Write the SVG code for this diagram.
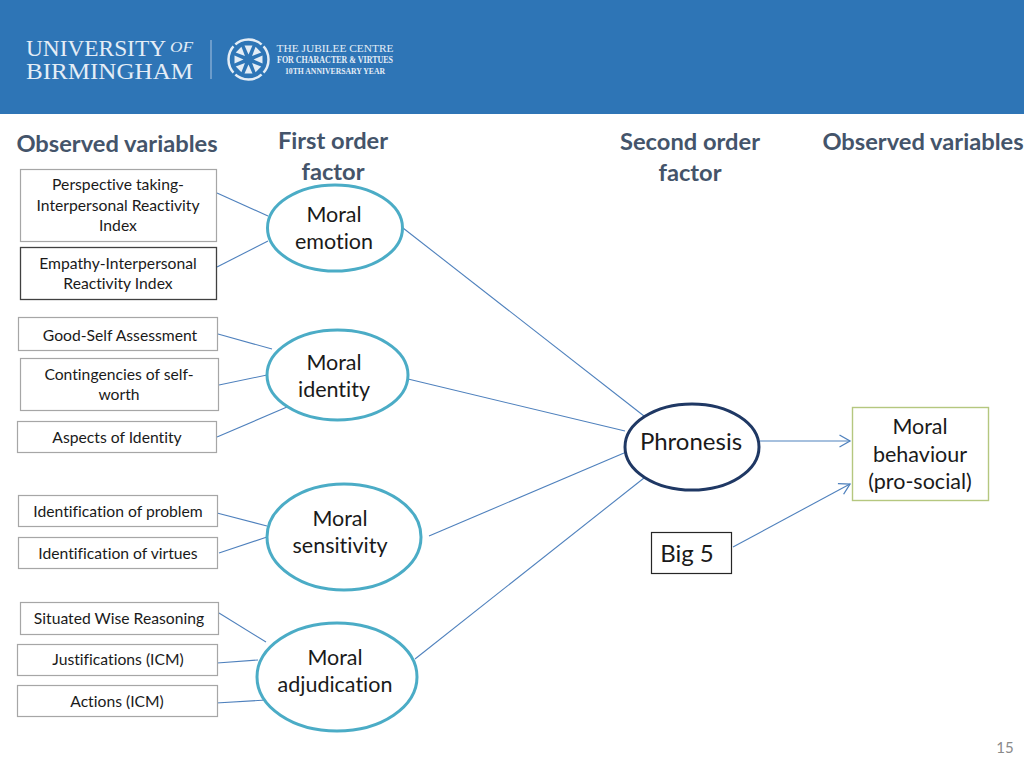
<svg xmlns="http://www.w3.org/2000/svg" width="1024" height="768" viewBox="0 0 1024 768">
<style>
text{font-family:"Lato","Open Sans","Liberation Sans",sans-serif;fill:#1a1a1a;text-anchor:middle;font-variant-ligatures:none}
.h{font-size:23.700px;font-weight:700;fill:#44546a}
.b{fill:#fff;stroke:#a6a6a6;stroke-width:1.2}
.d{fill:#fff;stroke:#404040;stroke-width:1.3}
.s{font-size:15.700px}
.e{fill:#fff;stroke:#4bacc6;stroke-width:3}
.l{font-size:21.500px}
.c line{stroke:#4f81bd;stroke-width:1.1}
.logo{font-family:"Liberation Serif",serif;fill:#e4edf6}
.st{text-anchor:start}
</style>
<defs>
<marker id="a" markerWidth="14" markerHeight="16" refX="11.500" refY="7" orient="auto" markerUnits="userSpaceOnUse"><path d="M1 1L11.500 7L1 13" fill="none" stroke="#4f81bd" stroke-width="1.300"/></marker>
<polygon id="w" points="0,-5 -4,-14 4,-14" fill="#e4edf6"/>
</defs>
<rect width="1024" height="114" fill="#2e75b6"/>
<g id="logo">
<text class="logo st" x="26" y="56" font-size="23" textLength="140" lengthAdjust="spacingAndGlyphs">UNIVERSITY</text>
<text class="logo st" x="170" y="52" font-size="14" font-style="italic" textLength="23" lengthAdjust="spacingAndGlyphs">OF</text>
<text class="logo st" x="26" y="79" font-size="23" textLength="167" lengthAdjust="spacingAndGlyphs">BIRMINGHAM</text>
<line x1="211" y1="40" x2="211" y2="79" stroke="#a9c4e0" stroke-width="1"/>
<circle cx="248.500" cy="59.500" r="20" fill="none" stroke="#e4edf6" stroke-width="2.500"/>
<g stroke="#2e75b6" stroke-width="2.500"><line x1="232" y1="43" x2="236" y2="47"/><line x1="265" y1="43" x2="261" y2="47"/><line x1="232" y1="76" x2="236" y2="72"/><line x1="265" y1="76" x2="261" y2="72"/></g>
<g transform="translate(248.500 59.500)"><use href="#w"/><use href="#w" transform="rotate(45)"/><use href="#w" transform="rotate(90)"/><use href="#w" transform="rotate(135)"/><use href="#w" transform="rotate(180)"/><use href="#w" transform="rotate(225)"/><use href="#w" transform="rotate(270)"/><use href="#w" transform="rotate(315)"/></g>
<text class="logo" x="335" y="52" font-size="11" textLength="117" lengthAdjust="spacingAndGlyphs">THE JUBILEE CENTRE</text>
<text class="logo" x="335" y="63" font-size="9.500" font-weight="700" textLength="116" lengthAdjust="spacingAndGlyphs">FOR CHARACTER &amp; VIRTUES</text>
<text class="logo" x="335" y="74" font-size="8" font-weight="700" textLength="100" lengthAdjust="spacingAndGlyphs">10TH ANNIVERSARY YEAR</text>
</g>
<g id="headers">
<text class="h" x="117" y="152">Observed variables</text>
<text class="h" x="333" y="148.500">First order</text>
<text class="h" x="333" y="179.500">factor</text>
<text class="h" x="690" y="149.500">Second order</text>
<text class="h" x="923" y="149.500">Observed variables</text>
<text class="h" x="690" y="180.500">factor</text>
</g>
<g id="connectors" class="c">
<line x1="217" y1="193" x2="268" y2="216"/>
<line x1="217" y1="267" x2="268" y2="241"/>
<line x1="218" y1="334" x2="272" y2="349"/>
<line x1="219" y1="385" x2="267" y2="375"/>
<line x1="217" y1="437" x2="287" y2="407"/>
<line x1="217" y1="513" x2="267" y2="526"/>
<line x1="219" y1="553" x2="267" y2="537"/>
<line x1="219" y1="613" x2="266" y2="642"/>
<line x1="217" y1="663" x2="258" y2="660"/>
<line x1="216" y1="703" x2="266" y2="700"/>
<line x1="403" y1="228" x2="644" y2="416"/>
<line x1="408" y1="379" x2="625" y2="431"/>
<line x1="429" y1="536" x2="624" y2="453"/>
<line x1="415" y1="659" x2="644" y2="478"/>
<line x1="760" y1="441" x2="850" y2="441" marker-end="url(#a)"/>
<line x1="733" y1="547" x2="850" y2="484" marker-end="url(#a)"/>
</g>
<g id="n1"><rect class="b" x="20.500" y="169.500" width="196" height="72"/><text class="s" x="118" y="190">Perspective taking-</text><text class="s" x="118" y="211">Interpersonal Reactivity</text><text class="s" x="118" y="231">Index</text></g>
<g id="n2"><rect class="d" x="20.500" y="247.500" width="196" height="52"/><text class="s" x="118" y="269">Empathy-Interpersonal</text><text class="s" x="118" y="289">Reactivity Index</text></g>
<g id="n3"><rect class="b" x="18.500" y="317.500" width="199" height="33"/><text class="s" x="120" y="341">Good-Self Assessment</text></g>
<g id="n4"><rect class="b" x="20.500" y="358.500" width="198" height="52"/><text class="s" x="119" y="380">Contingencies of self-</text><text class="s" x="119" y="400">worth</text></g>
<g id="n5"><rect class="b" x="17.500" y="421.500" width="199" height="31"/><text class="s" x="117" y="443">Aspects of Identity</text></g>
<g id="n6"><rect class="b" x="18.500" y="495.500" width="199" height="31"/><text class="s" x="118" y="517">Identification of problem</text></g>
<g id="n7"><rect class="b" x="18.500" y="537.500" width="199" height="31"/><text class="s" x="118" y="559">Identification of virtues</text></g>
<g id="n8"><rect class="b" x="20.500" y="602.500" width="198" height="32"/><text class="s" x="119" y="624">Situated Wise Reasoning</text></g>
<g id="n9"><rect class="b" x="17.500" y="644.500" width="200" height="31"/><text class="s" x="118" y="665">Justifications (ICM)</text></g>
<g id="n10"><rect class="b" x="17.500" y="685.500" width="200" height="31"/><text class="s" x="117" y="707">Actions (ICM)</text></g>
<g id="f1"><ellipse class="e" cx="335" cy="228" rx="67.500" ry="43"/><text class="l" x="334" y="222">Moral</text><text class="l" x="334" y="249">emotion</text></g>
<g id="f2"><ellipse class="e" cx="337.500" cy="375" rx="70.500" ry="45"/><text class="l" x="334" y="370">Moral</text><text class="l" x="334" y="397">identity</text></g>
<g id="f3"><ellipse class="e" cx="344" cy="537" rx="77" ry="53"/><text class="l" x="340" y="526">Moral</text><text class="l" x="340" y="553">sensitivity</text></g>
<g id="f4"><ellipse class="e" cx="337" cy="677" rx="80" ry="54"/><text class="l" x="335" y="665">Moral</text><text class="l" x="335" y="692">adjudication</text></g>
<g id="phronesis"><ellipse cx="692" cy="447" rx="67" ry="43" fill="#fff" stroke="#1f3864" stroke-width="3"/><text x="691" y="450" font-size="24">Phronesis</text></g>
<g id="behaviour"><rect x="852.500" y="407.500" width="136" height="93" fill="#fff" stroke="#b5c77f" stroke-width="1.400"/><text class="l" x="920" y="434">Moral</text><text class="l" x="920" y="462">behaviour</text><text class="l" x="920" y="489">(pro-social)</text></g>
<g id="big5"><rect x="651.500" y="532.500" width="80" height="41" fill="#fff" stroke="#262626" stroke-width="1.200"/><text x="687" y="562" font-size="24">Big 5</text></g>
<text x="1005" y="753" font-size="15" style="fill:#8a8a8a">15</text>
</svg>
